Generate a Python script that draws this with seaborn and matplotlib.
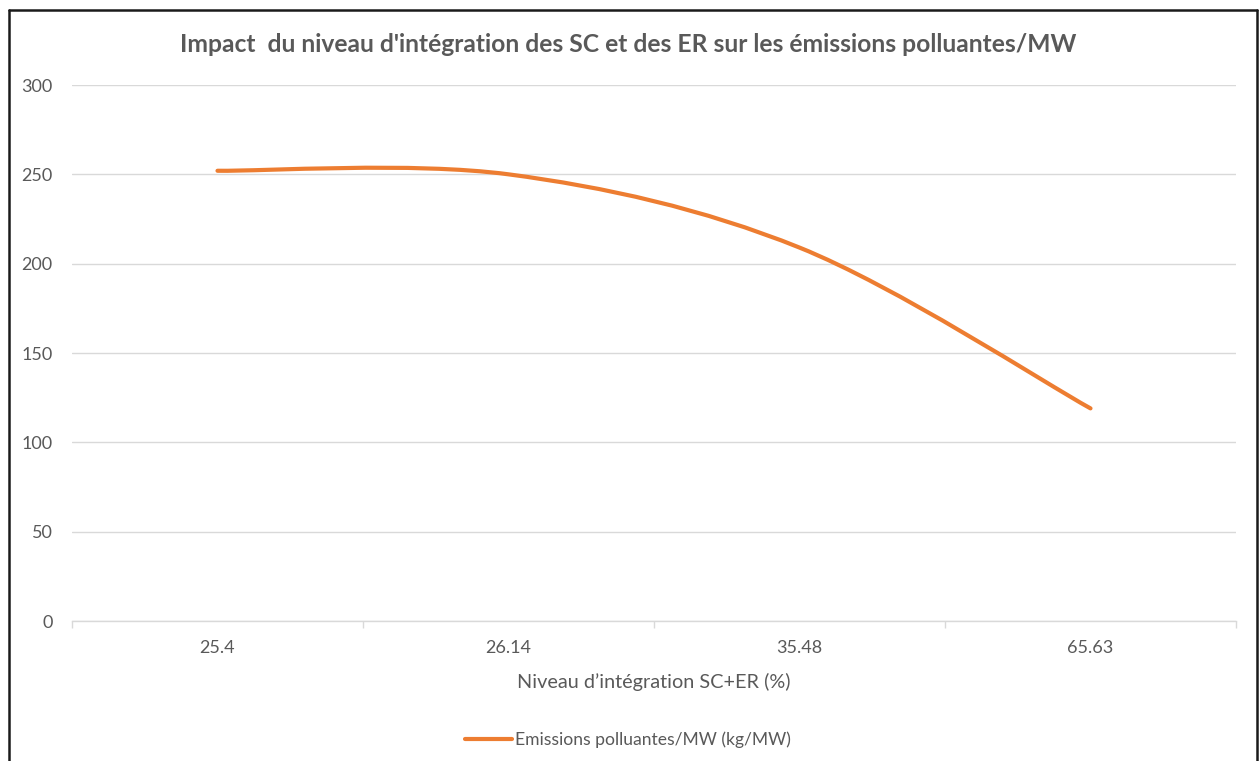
import numpy as np
import pandas as pd
import matplotlib
matplotlib.use("Agg")
import matplotlib.pyplot as plt
import seaborn as sns
from matplotlib.path import Path
from matplotlib.patches import PathPatch
from matplotlib.lines import Line2D

# Données
niveaux = ["25.4", "26.14", "35.48", "65.63"]
emissions = [252, 250, 209, 119]
serie = "Emissions polluantes/MW (kg/MW)"

orange = "#ED7D31"
gris_texte = "#595959"
gris_grille = "#D9D9D9"

sns.set_theme(style="white")
plt.rcParams["font.family"] = ["Lato", "DejaVu Sans"]

df = pd.DataFrame({"niveau": niveaux, "emissions": emissions})

fig = plt.figure(figsize=(12.59, 7.61), dpi=100)
ax = fig.add_axes([72 / 1259, 1 - 621 / 761, (1236 - 72) / 1259, (621 - 85) / 761])

sns.lineplot(data=df, x="niveau", y="emissions", ax=ax, color=orange,
             linewidth=3, sort=False)
# on garde la ligne de seaborn pour les échelles, on trace la courbe lissée (style Excel)
for ln in ax.get_lines():
    ln.set_visible(False)

xs = np.arange(len(niveaux), dtype=float)
ys = np.array(emissions, dtype=float)
pts = np.column_stack([xs, ys])
verts = [tuple(pts[0])]
codes = [Path.MOVETO]
for i in range(len(pts) - 1):
    p0 = pts[i - 1] if i > 0 else pts[i]
    p1 = pts[i]
    p2 = pts[i + 1]
    p3 = pts[i + 2] if i + 2 < len(pts) else pts[i + 1]
    c1 = p1 + (p2 - p0) / 6
    c2 = p2 - (p3 - p1) / 6
    verts += [tuple(c1), tuple(c2), tuple(p2)]
    codes += [Path.CURVE4] * 3
ax.add_patch(PathPatch(Path(verts, codes), facecolor="none", edgecolor=orange,
                       linewidth=3, capstyle="round", zorder=3))

ax.set_xlim(-0.5, len(niveaux) - 0.5)
ax.set_ylim(0, 300)
ax.set_yticks(range(0, 301, 50))
ax.set_xticks(range(len(niveaux)))
ax.set_xticklabels(niveaux)
ax.set_xticks(np.arange(-0.5, len(niveaux), 1.0), minor=True)

ax.yaxis.grid(True, color=gris_grille, linewidth=1)
ax.xaxis.grid(False)
for s in ["top", "right", "left"]:
    ax.spines[s].set_visible(False)
ax.spines["bottom"].set_color(gris_grille)
ax.spines["bottom"].set_linewidth(1)

ax.tick_params(axis="y", length=0, pad=14, labelsize=13, labelcolor=gris_texte)
ax.tick_params(axis="x", which="major", length=0, pad=14, labelsize=13, labelcolor=gris_texte)
ax.tick_params(axis="x", which="minor", length=5, width=1, color=gris_grille, bottom=True)

ax.set_xlabel("Niveau d\u2019intégration SC+ER (%)", fontsize=14.3, color=gris_texte, labelpad=12)
ax.set_ylabel("")

fig.text(628 / 1259, 1 - 45 / 761,
         "Impact  du niveau d'intégration des SC et des ER sur les émissions polluantes/MW",
         ha="center", va="center", fontsize=17.7, fontweight="bold", color=gris_texte)

handle = Line2D([], [], color=orange, linewidth=3)
fig.legend([handle], [serie], loc="center", bbox_to_anchor=(628 / 1259, 1 - 740 / 761),
           frameon=False, fontsize=12.6, labelcolor=gris_texte, handlelength=2.7,
           handletextpad=0.15)
if ax.get_legend() is not None:
    ax.get_legend().remove()

# cadre noir autour du graphique
cadre = dict(color="#1a1a1a", linewidth=1.8, transform=fig.transFigure)
fig.add_artist(Line2D([9 / 1259, 9 / 1259], [0, 1 - 10 / 761], **cadre))
fig.add_artist(Line2D([9 / 1259, 1257 / 1259], [1 - 10 / 761, 1 - 10 / 761], **cadre))
fig.add_artist(Line2D([1257 / 1259, 1257 / 1259], [0, 1 - 10 / 761], **cadre))

fig.savefig("out.png", dpi=100)
